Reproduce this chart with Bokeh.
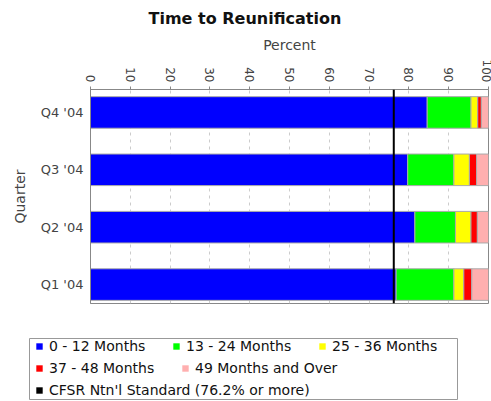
from bokeh.plotting import figure
from bokeh.models import (Range1d, FixedTicker, ColumnDataSource, Span, Legend, LegendItem)
from bokeh.layouts import column, row
from bokeh.embed import file_html
from bokeh.resources import INLINE

# ---- data ----
quarters = ["Q1 '04", "Q2 '04", "Q3 '04", "Q4 '04"]
series_names = ["0 - 12 Months", "13 - 24 Months", "25 - 36 Months",
                "37 - 48 Months", "49 Months and Over"]
m0_12 = [76.8, 81.5, 79.7, 84.6]
m13_24 = [14.5, 10.2, 11.6, 11.0]
m25_36 = [2.5, 3.9, 3.9, 1.7]
m37_48 = [2.0, 1.6, 1.8, 0.9]
m49_plus = [4.2, 2.8, 3.0, 1.8]
standard = 76.2
standard_label = "CFSR Ntn'l Standard (76.2% or more)"
x_ticks = [0, 10, 20, 30, 40, 50, 60, 70, 80, 90, 100]
colors = ["#0000FF", "#00FF00", "#FFFF00", "#FF0000", "#FFAFAF"]

FONT = "DejaVu Sans"
keys = ["s0", "s1", "s2", "s3", "s4"]
ypos = list(range(len(quarters)))
source = ColumnDataSource(dict(y=ypos, s0=m0_12, s1=m13_24, s2=m25_36, s3=m37_48, s4=m49_plus))
std_src = ColumnDataSource(dict(y=[ypos[0]], x=[standard]))

p = figure(width=491, height=330, x_range=Range1d(0, 100), y_range=Range1d(-0.33, 3.40),
           x_axis_location="above", output_backend="svg", toolbar_location=None,
           min_border_left=90, min_border_right=3, min_border_bottom=27, min_border_top=10,
           title="Time to Reunification")
p.title.text_font = FONT
p.title.text_font_size = "16px"
p.title.text_font_style = "bold"
p.title.align = "left"
p.title.offset = 58
p.title.standoff = 12
p.title.text_color = "#111111"

p.hbar_stack(keys, y="y", height=0.55, color=colors, source=source,
             line_color="#aaaaaa", line_width=1)
p.add_layout(Span(location=standard, dimension="height", line_color="black", line_width=2))

p.outline_line_color = "#888888"
p.background_fill_color = "white"

xa = p.xaxis[0]
xa.ticker = FixedTicker(ticks=x_ticks)
xa.axis_label = "Percent"
xa.axis_label_text_font = FONT
xa.axis_label_text_font_size = "14px"
xa.axis_label_text_font_style = "normal"
xa.axis_label_standoff = 4
xa.major_label_orientation = -1.5708
xa.major_label_text_font = FONT
xa.major_label_text_font_size = "12px"
xa.major_label_standoff = 4
xa.major_tick_out = 3
xa.major_tick_in = 0
xa.minor_tick_out = 0
xa.minor_tick_in = 0
xa.axis_line_color = "#888888"
xa.major_tick_line_color = "#888888"

ya = p.yaxis[0]
ya.ticker = FixedTicker(ticks=ypos)
ya.major_label_overrides = {i: q for i, q in zip(ypos, quarters)}
ya.axis_label = "Quarter"
ya.axis_label_text_font = FONT
ya.axis_label_text_font_size = "14px"
ya.axis_label_text_font_style = "normal"
ya.axis_label_standoff = 10
ya.major_label_text_font = FONT
ya.major_label_text_font_size = "13px"
ya.major_label_standoff = 5
ya.major_tick_out = 2
ya.major_tick_in = 0
ya.minor_tick_out = 0
ya.minor_tick_in = 0
ya.axis_line_color = "#888888"
ya.major_tick_line_color = None

p.xgrid.ticker = FixedTicker(ticks=x_ticks)
p.xgrid.grid_line_color = "#cccccc"
p.xgrid.grid_line_dash = "3 4"
p.ygrid.visible = False

# ---- legend figure (its frame is the legend box) ----
lg = figure(width=491, height=70, x_range=Range1d(0, 100), y_range=Range1d(-0.33, 3.40),
            output_backend="svg", toolbar_location=None,
            min_border_left=29, min_border_right=34, min_border_top=8, min_border_bottom=1,
            x_axis_location=None, y_axis_location=None)
lg.grid.visible = False
lg.outline_line_color = "#999999"
lg.background_fill_color = "white"

# zero-height proxies: they draw nothing, only give the legend swatches
proxies = lg.hbar_stack(keys, y="y", height=0, fill_color=colors, line_color=None, source=source)
std_r = lg.hbar(y="y", right="x", left=0, height=0, source=std_src,
                fill_color="black", line_color=None)

rends = list(proxies) + [std_r]
labels = series_names + [standard_label]
locs = [(6, 45), (143, 45), (289, 45), (6, 23), (152, 23), (6, 1)]
for r, lab, loc in zip(rends, labels, locs):
    leg = Legend(items=[LegendItem(label=lab, renderers=[r])], location=loc,
                 orientation="horizontal", border_line_alpha=0, background_fill_alpha=0,
                 padding=0, margin=0, glyph_width=8, glyph_height=8, label_standoff=6,
                 label_height=12, spacing=0, label_text_font=FONT,
                 label_text_font_size="14px", label_text_color="#111111")
    lg.add_layout(leg)

layout = column(p, row(lg, spacing=0), spacing=0)
open("out.html", "w").write(file_html(layout, INLINE))
